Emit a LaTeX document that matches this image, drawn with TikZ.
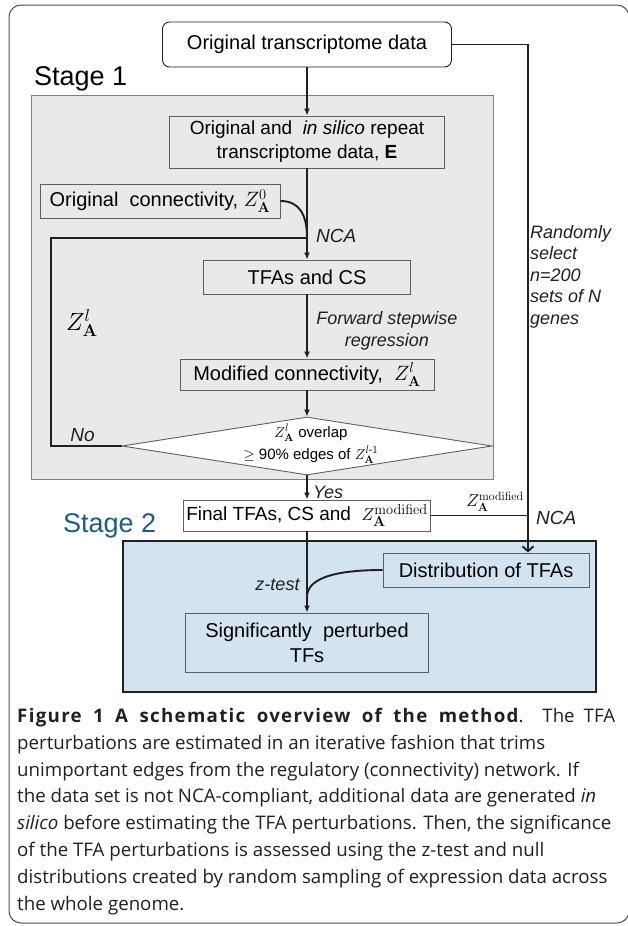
\documentclass[tikz,border=0pt]{standalone}
\usepackage{amsmath}
\usepackage[no-math]{fontspec}
\setmainfont{Liberation Sans}
\newfontfamily\capfont{Open Sans}
\usetikzlibrary{shapes.geometric,arrows.meta}
\definecolor{panelgray}{RGB}{232,233,235}
\definecolor{panelblue}{RGB}{211,227,240}
\definecolor{stagetwo}{RGB}{31,90,136}
\definecolor{ink}{RGB}{35,31,32}
\definecolor{edgegray}{RGB}{95,95,95}
\begin{document}
\begin{tikzpicture}[x=1pt,y=-1pt,
  box/.style={draw=edgegray,line width=0.9pt,inner sep=0pt,align=center,
              font=\fontsize{20}{23}\selectfont},
  flow/.style={draw=ink,line width=1.9pt,-{Latex[length=7pt,width=6pt]}},
  wire/.style={draw=ink,line width=1.9pt},
  lbl/.style={font=\fontsize{18}{21.5}\selectfont\itshape,inner sep=0pt,text=ink},
  stagelbl/.style={anchor=base west,inner sep=0pt,font=\fontsize{27}{30}\selectfont},
]
\useasboundingbox (0,0) rectangle (627,926);

% outer figure frame
\draw[ink!80, line width=1pt, rounded corners=12pt] (9,5) rectangle (629,923);

% panels
\node[draw=gray, line width=0.8pt, fill=panelgray, minimum width=462pt,
      minimum height=384pt, inner sep=0pt] (stage1) at (262,287) {};
\node[draw=ink, line width=2.4pt, fill=panelblue, minimum width=473pt,
      minimum height=151pt, inner sep=0pt] (stage2) at (359.5,616.5) {};

\node[stagelbl] (s1) at (34,85) {Stage 1};
\node[stagelbl, text=stagetwo] (s2) at (63,532) {Stage 2};

% process boxes
\node[box, draw=ink, rounded corners=7pt, fill=white, minimum width=289pt,
      minimum height=45pt] (src) at (307,44.5) {Original transcriptome data};
\node[box, fill=panelgray, minimum width=275pt, minimum height=52pt,
      font=\fontsize{19}{24}\selectfont] (exp) at (307,142)
      {Original and\ \ \textit{in silico} repeat\\transcriptome data, \textbf{E}};
\node[box, fill=panelgray, minimum width=240pt, minimum height=34pt] (z0) at (160,201)
      {Original\ \ connectivity, $Z^{0}_{\mathbf{A}}$};
\node[box, fill=panelgray, minimum width=207pt, minimum height=34pt] (tfa) at (307,277)
      {TFAs and CS};
\node[box, fill=panelgray, minimum width=254pt, minimum height=31pt] (mod) at (307,374.5)
      {Modified connectivity,\ \ $Z^{l}_{\mathbf{A}}$};
\node[diamond, draw=edgegray, line width=0.9pt, fill=white, minimum width=370pt,
      minimum height=58pt, inner sep=0pt, aspect=6.4] (dia) at (307,446) {};
\node[font=\fontsize{15}{22}\selectfont, align=center, inner sep=0pt] (diatext) at (311,444)
      {$Z^{l}_{\mathbf{A}}$\ overlap\\ $\geq$ 90\% edges of $Z^{l\text{-}1}_{\mathbf{A}}$};
\node[box, fill=white, minimum width=247pt, minimum height=31pt,
      font=\fontsize{19}{23}\selectfont] (fin) at (307,515.5)
      {Final TFAs, CS and\ \ $Z^{\mathrm{modified}}_{\mathbf{A}}$};
\node[box, fill=panelblue, minimum width=206pt, minimum height=34pt] (dist) at (486,570)
      {Distribution of TFAs};
\node[box, fill=panelblue, minimum width=243pt, minimum height=59pt,
      font=\fontsize{20}{25}\selectfont] (sig) at (307,642.5)
      {Significantly\ \ perturbed\\TFs};

% junction points
\coordinate (nca) at (307,238);
\coordinate (fbl) at (51,446);
\coordinate (zmj) at (528,515.5);
\coordinate (ztj) at (307,597);

% connectors
\draw[flow] (src) -- (exp);
\draw[flow] (exp) -- (tfa);
\draw[wire] (z0.east) .. controls (299,201) and (307,214) .. (nca);
\draw[wire] (dia.west) -- (fbl) |- (nca);
\draw[flow] (tfa) -- (mod);
\draw[flow] (mod) -- (dia);
\draw[flow] (dia) -- (fin);
\draw[flow] (fin) -- (sig);
\draw[wire] (dist.west) .. controls (330,570) and (307,580) .. (ztj);
\draw[wire] (src.east) -| (zmj);
\draw[draw=ink, line width=1.9pt, -{Straight Barb[length=5pt,width=11pt]}]
      (zmj) -- (zmj |- dist.north);
\draw[wire] (fin.east) -- (zmj);

% connector labels
\node[lbl, font=\fontsize{19}{22}\selectfont\itshape, anchor=west] (ncaA) at (316,236) {NCA};
\node[lbl, align=center] (fsr) at (387,331) {Forward stepwise\\regression};
\node[lbl, align=left, anchor=west] (rnd) at (530,276.5)
      {Randomly\\select\\n=200\\sets of N\\genes};
\node[inner sep=0pt, font=\fontsize{27}{30}\selectfont] (zbig) at (82,323) {$Z^{l}_{\mathbf{A}}$};
\node[lbl, font=\fontsize{19}{22}\selectfont\itshape] (no) at (82.5,435) {No};
\node[lbl, anchor=west] (yes) at (313,492) {Yes};
\node[inner sep=0pt, font=\fontsize{18}{20}\selectfont] (zmod) at (495,502)
      {$Z^{\mathrm{modified}}_{\mathbf{A}}$};
\node[lbl, font=\fontsize{19}{22}\selectfont\itshape, anchor=west] (ncaB) at (536,518) {NCA};
\node[lbl] (zt) at (277.5,585) {z-test};

% caption
\node[anchor=north west, inner sep=0pt, align=left, text=ink,
      font=\capfont\fontsize{18.7}{26.8}\selectfont] (cap) at (17,708)
{\makebox[598pt][s]{{\bfseries\addfontfeature{LetterSpace=7}Figure 1 A schematic overview of the method}. The TFA}\\
perturbations are estimated in an iterative fashion that trims\\
unimportant edges from the regulatory (connectivity) network. If\\
the data set is not NCA-compliant, additional data are generated \textit{in}\\
\textit{silico} before estimating the TFA perturbations. Then, the significance\\
of the TFA perturbations is assessed using the z-test and null\\
distributions created by random sampling of expression data across\\
the whole genome.};
\end{tikzpicture}
\end{document}
